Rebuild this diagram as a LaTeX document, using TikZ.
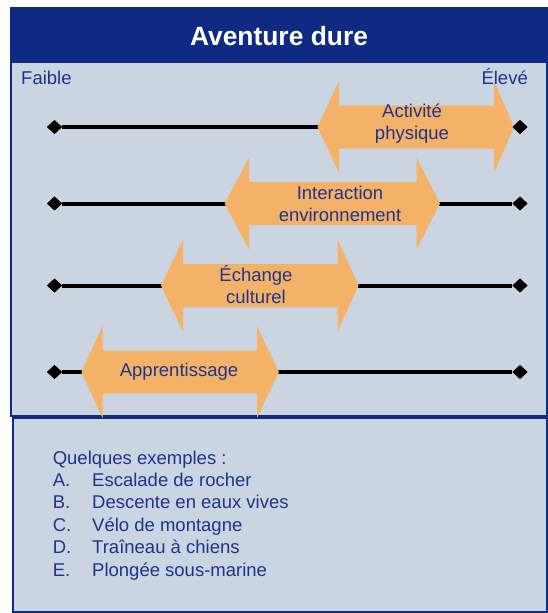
\documentclass[tikz,border=0pt]{standalone}
\usepackage{fontspec}
\setmainfont{Liberation Sans}
\usetikzlibrary{shapes.geometric}

\definecolor{navy}{RGB}{14,42,130}
\definecolor{panel}{RGB}{203,213,226}
\definecolor{ink}{RGB}{30,52,140}
\definecolor{amber}{RGB}{244,178,104}

% double-headed block arrow: #1 = centre y, #2 = left tip x, #3 = left shaft x,
% #4 = right shaft x, #5 = right tip x
\newcommand{\dblarrow}[5]{%
  \fill[amber] (#2,#1) -- (#3,#1-46) -- (#3,#1-21.5) -- (#4,#1-21.5) -- (#4,#1-46)
    -- (#5,#1) -- (#4,#1+46) -- (#4,#1+21.5) -- (#3,#1+21.5) -- (#3,#1+46) -- cycle;}

\begin{document}
\begin{tikzpicture}[x=1pt,y=-1pt,
  endpt/.style={diamond, fill=black, inner sep=0pt, minimum width=15pt, minimum height=14pt},
  scaleline/.style={line width=4pt, black},
  lbl/.style={text=ink, font=\fontsize{18.5}{22}\selectfont, align=center, inner sep=0pt},
  plain/.style={text=ink, font=\fontsize{18.5}{22}\selectfont, inner sep=0pt},
  frame/.style={draw=navy, line width=2pt, fill=panel}]

\useasboundingbox (0,0) rectangle (548,613);

% lower box with the examples
\draw[frame] (13,418) rectangle (547,612);

% upper panel and its title bar
\draw[frame] (11,8) rectangle (547,416);
\fill[navy] (10,7) rectangle (548,63);
\node[text=white, font=\fontsize{26.4}{30}\selectfont\bfseries, anchor=base, inner sep=0pt]
  (title) at (279,45) {Aventure dure};

\node[plain, anchor=base west] (low) at (21,84) {Faible};
\node[plain, anchor=base east] (high) at (528,84) {Élevé};

% scale end points
\foreach \i/\y in {1/127, 2/203.5, 3/285.5, 4/372} {
  \node[endpt] (l\i) at (54.5,\y) {};
  \node[endpt] (r\i) at (520,\y) {};
  \draw[scaleline] (l\i) -- (r\i);
}

% ranges
\dblarrow{127}{317.5}{339}{494}{514}
\dblarrow{203.5}{224.6}{249}{416.5}{440}
\dblarrow{285.5}{161}{183}{337.5}{358.6}
\dblarrow{372}{81.4}{102.5}{257}{279}

% redraw end points on top
\foreach \i/\y in {1/127, 2/203.5, 3/285.5, 4/372} {
  \node[endpt] at (54.5,\y) {};
  \node[endpt] at (520,\y) {};
}

\node[lbl] (act) at (412,124) {Activité\\physique};
\node[lbl] (env) at (340,204) {Interaction\\environnement};
\node[lbl] (cul) at (256,284.5) {Échange\\culturel};
\node[lbl] (app) at (179,372) {Apprentissage};

% examples
\node[plain, anchor=base west] (ex) at (52.6,464) {Quelques exemples :};
\foreach \k/\m/\t in {1/A./Escalade de rocher, 2/B./Descente en eaux vives,
                      3/C./Vélo de montagne, 4/D./Traîneau à chiens,
                      5/E./Plongée sous-marine} {
  \node[plain, anchor=base west] (m\k) at (52.6,464+22.4*\k) {\m};
  \node[plain, anchor=base west] (t\k) at (92,464+22.4*\k) {\t};
}
\end{tikzpicture}
\end{document}
